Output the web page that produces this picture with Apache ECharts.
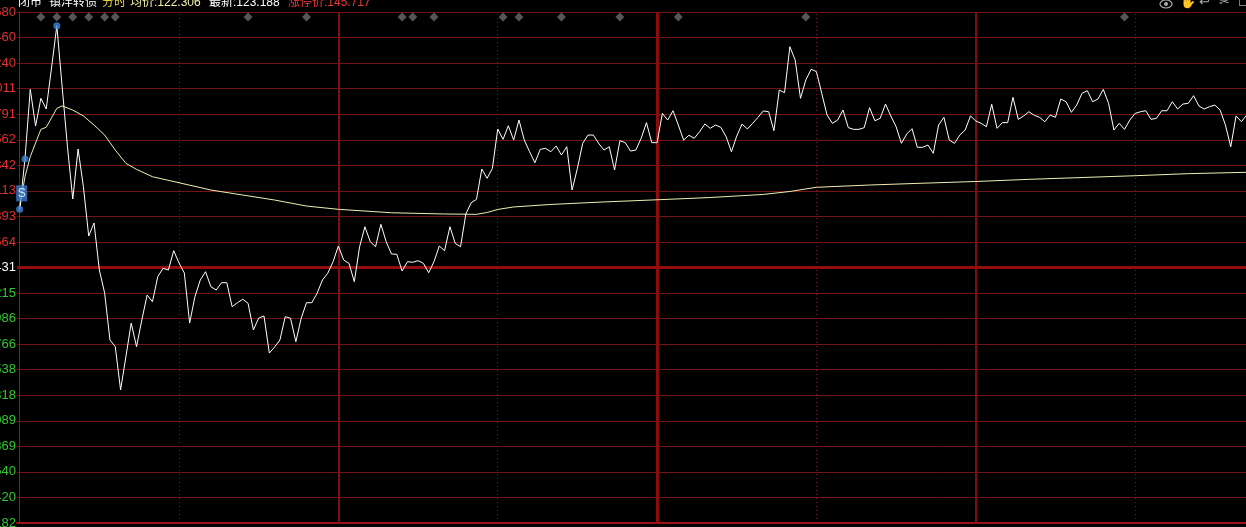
<!DOCTYPE html>
<html>
<head>
<meta charset="utf-8">
<script src="https://cdn.jsdelivr.net/npm/echarts@6/dist/echarts.min.js"></script>
<style>
html,body{margin:0;padding:0;background:#000;overflow:hidden;}
#chart{width:1246px;height:527px;}
</style>
</head>
<body>
<div id="chart"></div>
<script>
// ---- data ----
const stockName = '镇洋转债';
const statusText = '闭市';
const modeText = '分时';
const avgPriceText = '122.306';
const lastPriceText = '123.188';
const limitUpText = '145.717';
const prevClose = 121.431;

// y-axis tick labels, top to bottom
const yTickLabels = ['123.680','123.460','123.240','123.011','122.791','122.562','122.342','122.113','121.893','121.664',
  '121.431',
  '121.215','120.986','120.766','120.538','120.318','120.089','119.869','119.640','119.420','119.182'];
const yMin = 119.182, yMax = 123.680, yStep = 0.2249;

// minute prices (index = minute from 9:30)
const price = [
121.943,122.386,122.999,122.676,122.920,122.826,123.187,123.559,123.022,122.494,
122.034,122.474,122.142,121.708,121.823,121.409,121.206,120.793,120.734,120.353,
120.646,120.942,120.734,120.969,121.189,121.130,121.350,121.424,121.409,121.579,
121.471,121.383,120.942,121.174,121.321,121.394,121.262,121.233,121.297,121.297,
121.086,121.121,121.151,121.116,120.881,120.986,121.004,120.678,120.731,120.793,
120.998,120.984,120.778,120.984,121.121,121.121,121.204,121.321,121.380,121.482,
121.620,121.497,121.468,121.306,121.614,121.790,121.658,121.614,121.811,121.658,
121.550,121.547,121.400,121.482,121.477,121.491,121.468,121.385,121.482,121.620,
121.579,121.790,121.644,121.614,121.902,122.001,122.031,122.298,122.216,122.304,
122.650,122.559,122.679,122.553,122.729,122.553,122.450,122.353,122.471,122.480,
122.450,122.500,122.421,122.494,122.113,122.304,122.524,122.597,122.597,122.524,
122.465,122.494,122.289,122.547,122.530,122.456,122.465,122.568,122.706,122.530,
122.530,122.788,122.729,122.811,122.685,122.553,122.595,122.568,122.626,122.694,
122.656,122.685,122.665,122.582,122.450,122.588,122.694,122.650,122.700,122.753,
122.809,122.802,122.635,122.993,122.970,123.375,123.257,122.920,123.081,123.176,
123.155,122.964,122.773,122.700,122.729,122.817,122.662,122.647,122.647,122.662,
122.838,122.723,122.744,122.870,122.765,122.670,122.524,122.606,122.653,122.489,
122.489,122.509,122.436,122.685,122.753,122.553,122.524,122.597,122.641,122.765,
122.721,122.700,122.670,122.868,122.656,122.706,122.706,122.929,122.735,122.765,
122.802,122.771,122.753,122.714,122.773,122.753,122.914,122.890,122.797,122.861,
122.964,122.987,122.890,122.914,122.999,122.876,122.641,122.700,122.647,122.729,
122.788,122.802,122.811,122.735,122.744,122.811,122.811,122.890,122.826,122.870,
122.876,122.943,122.853,122.826,122.846,122.861,122.817,122.685,122.494,122.765,
122.714,122.773];

// average price line (minute, value)
const avgMinute = [0,1,2,4,5,7,8,10,12,14,16,18,20,22,25,30,36,42,48,54,60,70,80,86,88,90,93,100,110,120,130,140,145,150,160,170,180,190,200,210,220,231];
const avgValue = [121.946,122.230,122.406,122.647,122.665,122.832,122.853,122.817,122.765,122.685,122.597,122.465,122.348,122.295,122.230,122.177,122.113,122.069,122.025,121.972,121.943,121.913,121.902,121.899,121.915,121.942,121.964,121.986,122.008,122.027,122.047,122.074,122.100,122.137,122.157,122.173,122.188,122.207,122.223,122.239,122.257,122.269];

// event markers (minutes)
const diamondMinutes = [4,7,10,13,16,18,43,54,72,74,78,91,94,102,113,124,148,208];
const bluePointMinutes = [0,1,7];
const signalMinute = 0;
const signalText = 'S';

// time grid lines (minutes)
const halfHourMinutes = [30,90,150,210];
const hourMinutes = [60,180];
const middayMinute = 120;

// ---- chart ----
const chart = echarts.init(document.getElementById('chart'), null, {renderer:'canvas'});
const gridRed = '#721414';
const latinFont = '"Liberation Sans", "Noto Sans CJK SC", sans-serif';

const vLines = [];
halfHourMinutes.forEach(m => vLines.push({xAxis:m, lineStyle:{color:'#8a1a1a', width:1, type:[1,3]}}));
hourMinutes.forEach(m => vLines.push({xAxis:m, lineStyle:{color:'#7a1010', width:2, type:'solid'}}));
vLines.push({xAxis:middayMinute, lineStyle:{color:'#8a0d0d', width:3, type:'solid'}});
vLines.push({yAxis:prevClose, lineStyle:{color:'#950c0c', width:3, type:'solid'}});

const headerItems = [
  {x:18, text:statusText, color:'#ffffff'},
  {x:49, text:stockName, color:'#ffffff'},
  {x:102, text:modeText, color:'#e8d840'},
  {x:130, text:'均价:' + avgPriceText, color:'#f2f2a8'},
  {x:209, text:'最新:' + lastPriceText, color:'#ffffff'},
  {x:288, text:'涨停价:' + limitUpText, color:'#e8383c'}
];
const graphics = headerItems.map(h => ({
  type:'text', left:h.x, top:-3, z:100,
  style:{text:h.text, fill:h.color, font:'12px ' + latinFont}
}));
// toolbar icons (top-right)
graphics.push({type:'ellipse', shape:{cx:1166, cy:4, rx:6, ry:4}, style:{fill:'none', stroke:'#aaaaaa', lineWidth:1.2}, z:100});
graphics.push({type:'circle', shape:{cx:1166, cy:4, r:2}, style:{fill:'#aaaaaa'}, z:100});
[{x:1180, t:'✋'},{x:1199, t:'↩'},{x:1219, t:'✂'},{x:1238, t:'☐'}].forEach(ic => {
  graphics.push({type:'text', left:ic.x, top:-4, z:100, style:{text:ic.t, fill:'#aaaaaa', font:'13px "DejaVu Sans"'}});
});

chart.setOption({
  backgroundColor:'#000000',
  animation:false,
  grid:{left:17, top:12, width:1277.5, height:511, outerBoundsMode:'none', containLabel:false},
  xAxis:{
    type:'value', min:-0.5, max:240,
    axisLine:{show:true, onZero:false, lineStyle:{color:'#9a1212', width:2}},
    axisTick:{show:false}, axisLabel:{show:false}, splitLine:{show:false}
  },
  yAxis:{
    type:'value', min:yMin, max:yMax, interval:yStep,
    axisLine:{show:true, lineStyle:{color:'#8a1a1a', width:1}},
    axisTick:{show:false},
    splitLine:{show:true, lineStyle:{color:gridRed, width:1}},
    axisLabel:{
      show:true, margin:1, fontSize:13, fontFamily:'"Liberation Sans", sans-serif',
      showMinLabel:true, showMaxLabel:true,
      formatter:function(v){ const k = Math.round((v - yMin)/yStep); return yTickLabels[20-k] || ''; },
      color:function(v){ const k = Math.round((v - yMin)/yStep); return k>10 ? '#e03030' : (k===10 ? '#ffffff' : '#2ec82e'); }
    }
  },
  graphic:graphics,
  series:[
    {
      type:'line', name:'均价', data:avgMinute.map((m,i)=>[m, avgValue[i]]),
      symbol:'none', lineStyle:{color:'#eeeeb0', width:1}, z:3, silent:true,
      markLine:{silent:true, symbol:'none', label:{show:false}, data:vLines, z:1}
    },
    {
      type:'line', name:'价格', data:price.map((p,i)=>[i,p]),
      symbol:'none', lineStyle:{color:'#ffffff', width:1}, z:4, silent:true
    },
    {
      type:'scatter', data:diamondMinutes.map(m=>[m, yMax - 0.045]),
      symbol:'diamond', symbolSize:[9,9], itemStyle:{color:'#6c6c6c'}, z:5, silent:true
    },
    {
      type:'scatter', data:bluePointMinutes.map(m=>[m, price[m]]),
      symbol:'circle', symbolSize:7, itemStyle:{color:'#3f86d8'}, z:6, silent:true
    },
    {
      type:'scatter', data:[[signalMinute, price[signalMinute]]],
      symbol:'rect', symbolSize:[11,16], symbolOffset:[2,-16], itemStyle:{color:'#3a7cd0'}, z:7, silent:true,
      label:{show:true, position:'inside', formatter:signalText, color:'#ffffff', fontSize:12, fontFamily:'"Liberation Sans", sans-serif'}
    }
  ]
});
</script>
</body>
</html>
